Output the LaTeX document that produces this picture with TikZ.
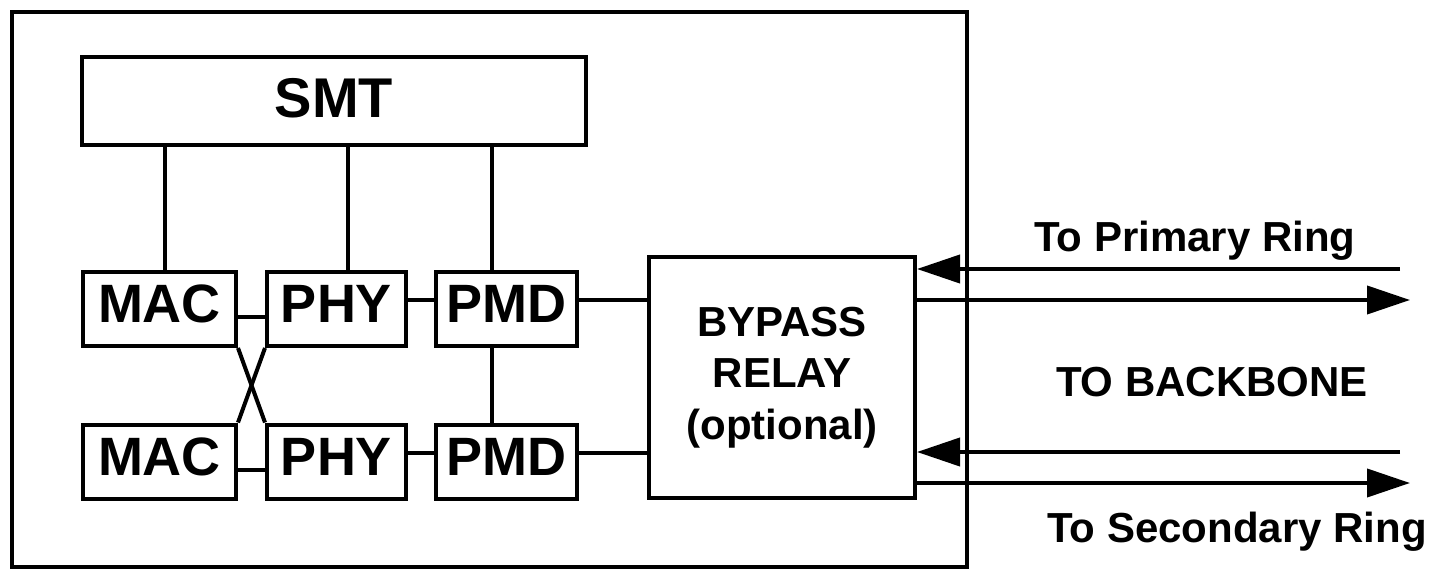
\documentclass[tikz,border=0pt]{standalone}
\usepackage{fontspec}
\setmainfont{Liberation Sans}
\usetikzlibrary{arrows.meta}
\tikzset{
  blk/.style={draw, line width=4pt, inner sep=0pt},
  unit/.style={blk, minimum height=74pt, text depth=10pt, font=\fontsize{54}{60}\selectfont\bfseries},
  lbl/.style={anchor=base, font=\fontsize{42}{50}\selectfont\bfseries},
  wire/.style={line width=4pt},
  ring/.style={line width=4pt, -{Triangle[length=43pt,width=28pt]}},
}
\begin{document}
\begin{tikzpicture}[x=1pt,y=-1pt]
	 \useasboundingbox (0,0) rectangle (1433,572);
	 % station frame
	 \draw[wire] (12,12) rectangle (967,567);
	 \node[blk, minimum width=504pt, minimum height=88pt, text depth=6pt,
	   font=\fontsize{56}{60}\selectfont\bfseries] (smt) at (334,101) {SMT};
	 \foreach \r/\y in {1/309, 2/461.5} {
	   \node[unit, minimum width=153pt] (mac\r) at (159.5,\y) {MAC};
	   \node[unit, minimum width=139pt] (phy\r) at (336.5,\y) {PHY};
	   \node[unit, minimum width=141pt] (pmd\r) at (506.5,\y) {PMD};
	 }
	 \node[blk, minimum width=266pt, minimum height=241pt, align=center,
	   font=\fontsize{42}{51.5}\selectfont\bfseries] (bypass) at (782,377.5)
	   {BYPASS\\RELAY\\(optional)};
	 % smt links
	 \foreach \n/\d in {mac1/5, phy1/11, pmd1/-15}
	   \draw[wire] ([xshift=\d pt]\n.north) -- ([xshift=\d pt]\n.north |- smt.south);
	 \draw[wire] ([xshift=-15pt]pmd1.south) -- ([xshift=-15pt]pmd2.north);
	 \foreach \r in {1,2} {
	   \draw[wire] ([yshift=-8pt]mac\r.east) -- ([yshift=-8pt]phy\r.west);
	   \draw[wire] ([yshift=9pt]phy\r.east) -- ([yshift=9pt]pmd\r.west);
	   \draw[wire] ([yshift=9pt]pmd\r.east) -- ([yshift=9pt]pmd\r.east -| bypass.west);
	 }
	 \draw[wire] (mac1.south east) -- (phy2.north west);
	 \draw[wire] (phy1.south west) -- (mac2.north east);
	 % rings
	 \coordinate (pin) at (1400,269);
	 \coordinate (pout) at (1410,300);
	 \coordinate (sin) at (1400,452);
	 \coordinate (sout) at (1410,483);
	 \draw[ring] (pin) -- (pin -| bypass.east);
	 \draw[ring] (pout -| bypass.east) -- (pout);
	 \draw[ring] (sin) -- (sin -| bypass.east);
	 \draw[ring] (sout -| bypass.east) -- (sout);
	 \node[lbl] (primary) at (1195,252) {To Primary Ring};
	 \node[lbl] (backbone) at (1212,396) {TO BACKBONE};
	 \node[lbl] (secondary) at (1237,542) {To Secondary Ring};
\end{tikzpicture}
\end{document}
